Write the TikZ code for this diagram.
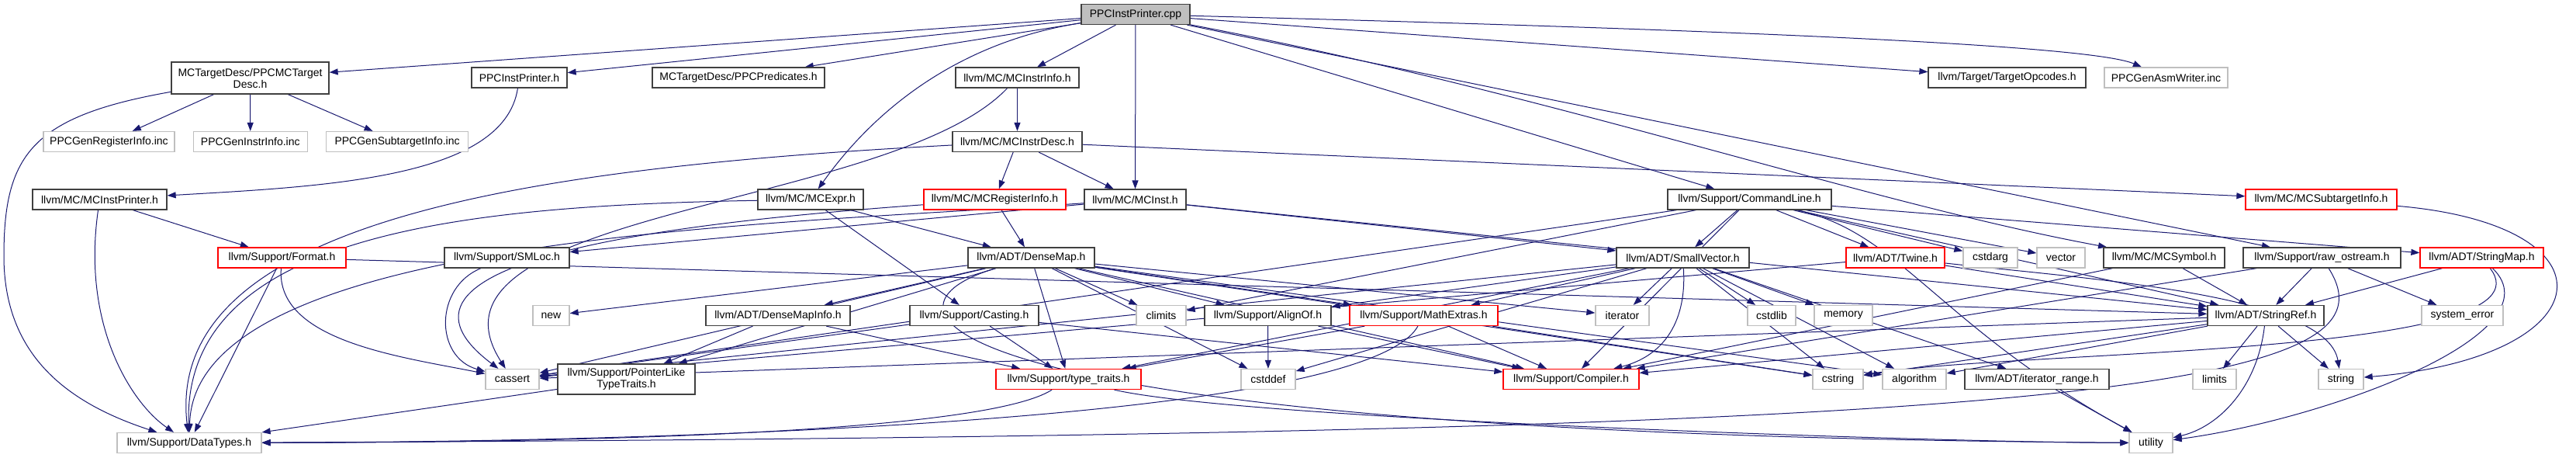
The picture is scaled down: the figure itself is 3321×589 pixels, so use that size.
\documentclass[tikz,border=0pt]{standalone}
\usepackage{fontspec}
\setmainfont{Liberation Sans}
\usepackage{tikz}
\usetikzlibrary{positioning,arrows.meta,backgrounds}
\usepackage{xcolor}
\definecolor{edgeblue}{HTML}{191970}
\definecolor{boxgray}{HTML}{BFBFBF}
\definecolor{boxline}{HTML}{404040}

\begin{document}
\begin{tikzpicture}[
    x=1pt, y=-1pt,
    every node/.style={font=\fontsize{14}{15}\selectfont},
    box/.style={draw=boxline, line width=1.3pt, fill=white, minimum height=26pt, inner xsep=0pt, inner ysep=2pt, align=center},
    sysbox/.style={box, draw=boxgray},
    redbox/.style={box, draw=red},
    rootbox/.style={box, fill=boxgray},
    dep/.style={-{Triangle[length=11pt,width=8pt]}, draw=edgeblue, line width=1pt}
]
\useasboundingbox (0,0) rectangle (3321,589);

\node[rootbox, minimum width=140pt] (cpp) at (1464,18.5) {PPCInstPrinter.cpp};

\node[box, minimum width=203pt, minimum height=41pt] (tdesc) at (322.5,100.5) {MCTargetDesc/PPCMCTarget\\Desc.h};
\node[box, minimum width=123pt] (ppch) at (669.5,100) {PPCInstPrinter.h};
\node[box, minimum width=222pt] (pred) at (952,100) {MCTargetDesc/PPCPredicates.h};
\node[box, minimum width=159pt] (instrinfo) at (1311.5,100) {llvm/MC/MCInstrInfo.h};
\node[box, minimum width=203pt] (opcodes) at (2587.5,100) {llvm/Target/TargetOpcodes.h};
\node[sysbox, minimum width=159pt] (asmwr) at (2792.5,100) {PPCGenAsmWriter.inc};

\node[sysbox, minimum width=169pt] (genreg) at (140.5,182.5) {PPCGenRegisterInfo.inc};
\node[sysbox, minimum width=147pt, right=23pt of genreg] (geninstr) {PPCGenInstrInfo.inc};
\node[sysbox, minimum width=183pt, right=23pt of geninstr] (gensub) {PPCGenSubtargetInfo.inc};
\node[box, minimum width=167pt] (instrdesc) at (1311.5,182.5) {llvm/MC/MCInstrDesc.h};

\node[box, minimum width=173pt] (instprinter) at (128.5,257) {llvm/MC/MCInstPrinter.h};
\node[box, minimum width=136pt] (expr) at (1045,257) {llvm/MC/MCExpr.h};
\node[redbox, minimum width=183pt] (reginfo) at (1282.5,257) {llvm/MC/MCRegisterInfo.h};
\node[box, minimum width=131pt] (inst) at (1463.5,257) {llvm/MC/MCInst.h};
\node[box, minimum width=211pt] (cmdline) at (2255.5,257) {llvm/Support/CommandLine.h};
\node[redbox, minimum width=195pt] (subtarget) at (2992.5,257) {llvm/MC/MCSubtargetInfo.h};

\node[redbox, minimum width=165pt] (format) at (363.5,332) {llvm/Support/Format.h};
\node[box, minimum width=161pt] (smloc) at (653.5,332) {llvm/Support/SMLoc.h};
\node[box, minimum width=163pt] (densemap) at (1329.5,332) {llvm/ADT/DenseMap.h};
\node[box, minimum width=171pt] (smallvec) at (2169.5,332) {llvm/ADT/SmallVector.h};
\node[redbox, minimum width=127pt] (twine) at (2443.5,332) {llvm/ADT/Twine.h};
\node[sysbox, minimum width=70pt] (cstdarg) at (2566,332) {cstdarg};
\node[sysbox, minimum width=62pt] (vector) at (2657,332) {vector};
\node[box, minimum width=156pt] (symbol) at (2790,332) {llvm/MC/MCSymbol.h};
\node[box, minimum width=203pt] (rawos) at (2993.5,332) {llvm/Support/raw\_ostream.h};
\node[redbox, minimum width=159pt] (strmap) at (3199.5,332) {llvm/ADT/StringMap.h};

\node[sysbox, minimum width=47pt] (new) at (710.5,406.5) {new};
\node[box, minimum width=186pt] (mapinfo) at (1003,406.5) {llvm/ADT/DenseMapInfo.h};
\node[box, minimum width=166pt] (casting) at (1256,406.5) {llvm/Support/Casting.h};
\node[sysbox, minimum width=64pt] (climits) at (1497,406.5) {climits};
\node[box, minimum width=163pt] (alignof) at (1634.5,406.5) {llvm/Support/AlignOf.h};
\node[redbox, minimum width=191pt] (mathex) at (1835.5,406.5) {llvm/Support/MathExtras.h};
\node[sysbox, minimum width=69pt] (iterator) at (2091.5,406.5) {iterator};
\node[sysbox, minimum width=62pt] (cstdlib) at (2284,406.5) {cstdlib};
\node[sysbox, minimum width=75pt] (memory) at (2376.5,406.5) {memory};
\node[box, minimum width=150pt] (strref) at (2921,406.5) {llvm/ADT/StringRef.h};
\node[sysbox, minimum width=105pt] (syserr) at (3174.5,406.5) {system\_error};

\node[sysbox, minimum width=69pt] (cassert) at (660.5,488.5) {cassert};
\node[box, minimum width=177pt, minimum height=39pt] (ptrlike) at (807.5,488.5) {llvm/Support/PointerLike\\TypeTraits.h};
\node[redbox, minimum width=187pt] (typetr) at (1377.5,488.5) {llvm/Support/type\_traits.h};
\node[sysbox, minimum width=70pt] (cstddef) at (1635,488.5) {cstddef};
\node[redbox, minimum width=175pt] (compiler) at (2025.5,488.5) {llvm/Support/Compiler.h};
\node[sysbox, minimum width=65pt] (cstring) at (2369.5,488.5) {cstring};
\node[sysbox, minimum width=82pt] (algorithm) at (2468,488.5) {algorithm};
\node[box, minimum width=186pt] (iterrange) at (2626,488.5) {llvm/ADT/iterator\_range.h};
\node[sysbox, minimum width=56pt] (limits) at (2855,488.5) {limits};
\node[sysbox, minimum width=58pt] (string) at (3018,488.5) {string};

\node[sysbox, minimum width=186pt] (datatypes) at (244,570.5) {llvm/Support/DataTypes.h};
\node[sysbox, minimum width=56pt] (utility) at (2773,570.5) {utility};

\begin{scope}[on background layer]
% PPCInstPrinter.cpp
\draw[dep] (cpp) -- (tdesc);
\draw[dep] (cpp) -- (ppch);
\draw[dep] (cpp) -- (pred);
\draw[dep] (cpp) -- (instrinfo);
\draw[dep] (cpp) .. controls (1200,60) and (1100,180) .. (expr);
\draw[dep] (cpp) -- (inst);
\draw[dep] (cpp) -- (cmdline);
\draw[dep] (cpp) -- (rawos);
\draw[dep] (cpp) .. controls (2000,120) and (2400,260) .. (symbol);
\draw[dep] (cpp) -- (opcodes);
\draw[dep] (cpp) .. controls (2300,40) and (2700,60) .. (asmwr);
% PPCMCTargetDesc.h
\draw[dep] (tdesc) -- (genreg);
\draw[dep] (tdesc) -- (geninstr);
\draw[dep] (tdesc) -- (gensub);
\draw[dep] (tdesc) .. controls (40,150) and (5,200) .. (5,330) .. controls (5,460) and (90,520) .. (datatypes);
% PPCInstPrinter.h and MCInstPrinter.h
\draw[dep] (ppch) .. controls (650,230) and (420,240) .. (instprinter);
\draw[dep] (instprinter) .. controls (105,420) and (170,520) .. (datatypes);
\draw[dep] (instprinter) -- (format);
% Format.h
\draw[dep] (format) -- (datatypes);
\draw[dep] (format) .. controls (355,440) and (520,460) .. (cassert);
\draw[dep] (format) -- (strref);
% MCInstrInfo.h, MCInstrDesc.h
\draw[dep] (instrinfo) -- (instrdesc);
\draw[dep] (instrinfo) .. controls (1150,270) and (520,270) .. (cassert);
\draw[dep] (instrdesc) -- (reginfo);
\draw[dep] (instrdesc) -- (inst);
\draw[dep] (instrdesc) .. controls (700,215) and (210,280) .. (datatypes);
\draw[dep] (instrdesc) -- (subtarget);
\draw[dep] (subtarget) .. controls (3380,290) and (3360,460) .. (string);
% MCExpr.h, MCRegisterInfo.h, MCInst.h
\draw[dep] (expr) -- (densemap);
\draw[dep] (expr) -- (casting);
\draw[dep] (expr) .. controls (600,265) and (235,300) .. (datatypes);
\draw[dep] (reginfo) -- (densemap);
\draw[dep] (reginfo) .. controls (900,285) and (450,330) .. (cassert);
\draw[dep] (inst) -- (smallvec);
\draw[dep] (inst) -- (strref);
\draw[dep] (inst) .. controls (1000,290) and (250,300) .. (datatypes);
\draw[dep] (inst) -- (smloc);
\draw[dep] (smloc) .. controls (560,370) and (560,460) .. (cassert);
% CommandLine.h
\draw[dep] (cmdline) -- (smallvec);
\draw[dep] (cmdline) -- (twine);
\draw[dep] (cmdline) -- (strmap);
\draw[dep] (cmdline) -- (strref);
\draw[dep] (cmdline) -- (compiler);
\draw[dep] (cmdline) -- (cassert);
\draw[dep] (cmdline) -- (climits);
\draw[dep] (cmdline) -- (cstdarg);
\draw[dep] (cmdline) -- (vector);
\draw[dep] (cmdline) .. controls (2450,300) and (2500,420) .. (utility);
% DenseMap.h
\draw[dep] (densemap) -- (mapinfo);
\draw[dep] (densemap) -- (alignof);
\draw[dep] (densemap) -- (compiler);
\draw[dep] (densemap) -- (mathex);
\draw[dep] (densemap) -- (ptrlike);
\draw[dep] (densemap) -- (typetr);
\draw[dep] (densemap) -- (algorithm);
\draw[dep] (densemap) -- (cassert);
\draw[dep] (densemap) -- (climits);
\draw[dep] (densemap) -- (cstddef);
\draw[dep] (densemap) -- (cstring);
\draw[dep] (densemap) -- (iterator);
\draw[dep] (densemap) -- (new);
\draw[dep] (densemap) .. controls (1100,400) and (1200,560) .. (utility);
% DenseMapInfo.h, Casting.h, PointerLikeTypeTraits.h, AlignOf.h
\draw[dep] (mapinfo) -- (ptrlike);
\draw[dep] (mapinfo) -- (typetr);
\draw[dep] (casting) -- (typetr);
\draw[dep] (casting) -- (cassert);
\draw[dep] (casting) -- (compiler);
\draw[dep] (ptrlike) -- (datatypes);
\draw[dep] (alignof) -- (cstddef);
\draw[dep] (alignof) -- (compiler);
% MathExtras.h, type_traits.h
\draw[dep] (mathex) -- (compiler);
\draw[dep] (mathex) -- (typetr);
\draw[dep] (mathex) -- (cstring);
\draw[dep] (mathex) .. controls (1750,560) and (600,570) .. (datatypes);
\draw[dep] (typetr) .. controls (1250,570) and (500,570) .. (datatypes);
\draw[dep] (typetr) .. controls (1600,540) and (2500,570) .. (utility);
% SmallVector.h
\draw[dep] (smallvec) -- (alignof);
\draw[dep] (smallvec) -- (mathex);
\draw[dep] (smallvec) -- (iterator);
\draw[dep] (smallvec) -- (cstdlib);
\draw[dep] (smallvec) -- (memory);
\draw[dep] (smallvec) .. controls (2175,420) and (2140,460) .. (compiler);
\draw[dep] (smallvec) -- (typetr);
\draw[dep] (smallvec) -- (iterrange);
\draw[dep] (smallvec) -- (cassert);
\draw[dep] (smallvec) -- (cstddef);
\draw[dep] (smallvec) -- (cstring);
\draw[dep] (smallvec) -- (algorithm);
% Twine.h, StringMap.h, raw_ostream.h, MCSymbol.h
\draw[dep] (twine) -- (strref);
\draw[dep] (twine) -- (cassert);
\draw[dep] (twine) .. controls (2700,360) and (3000,380) .. (string);
\draw[dep] (strmap) -- (strref);
\draw[dep] (strmap) .. controls (3300,460) and (2600,450) .. (cstring);
\draw[dep] (strmap) .. controls (3300,430) and (3000,540) .. (utility);
\draw[dep] (rawos) -- (strref);
\draw[dep] (rawos) -- (compiler);
\draw[dep] (rawos) .. controls (3100,500) and (2700,560) .. (datatypes);
\draw[dep] (rawos) -- (syserr);
\draw[dep] (symbol) -- (strref);
\draw[dep] (symbol) -- (compiler);
% StringRef.h, iterator_range.h
\draw[dep] (strref) -- (algorithm);
\draw[dep] (strref) -- (cassert);
\draw[dep] (strref) -- (cstring);
\draw[dep] (strref) -- (limits);
\draw[dep] (strref) -- (string);
\draw[dep] (strref) .. controls (2910,500) and (2860,550) .. (utility);
\draw[dep] (strref) -- (compiler);
\draw[dep] (iterrange) -- (utility);
\end{scope}
\end{tikzpicture}
\end{document}
